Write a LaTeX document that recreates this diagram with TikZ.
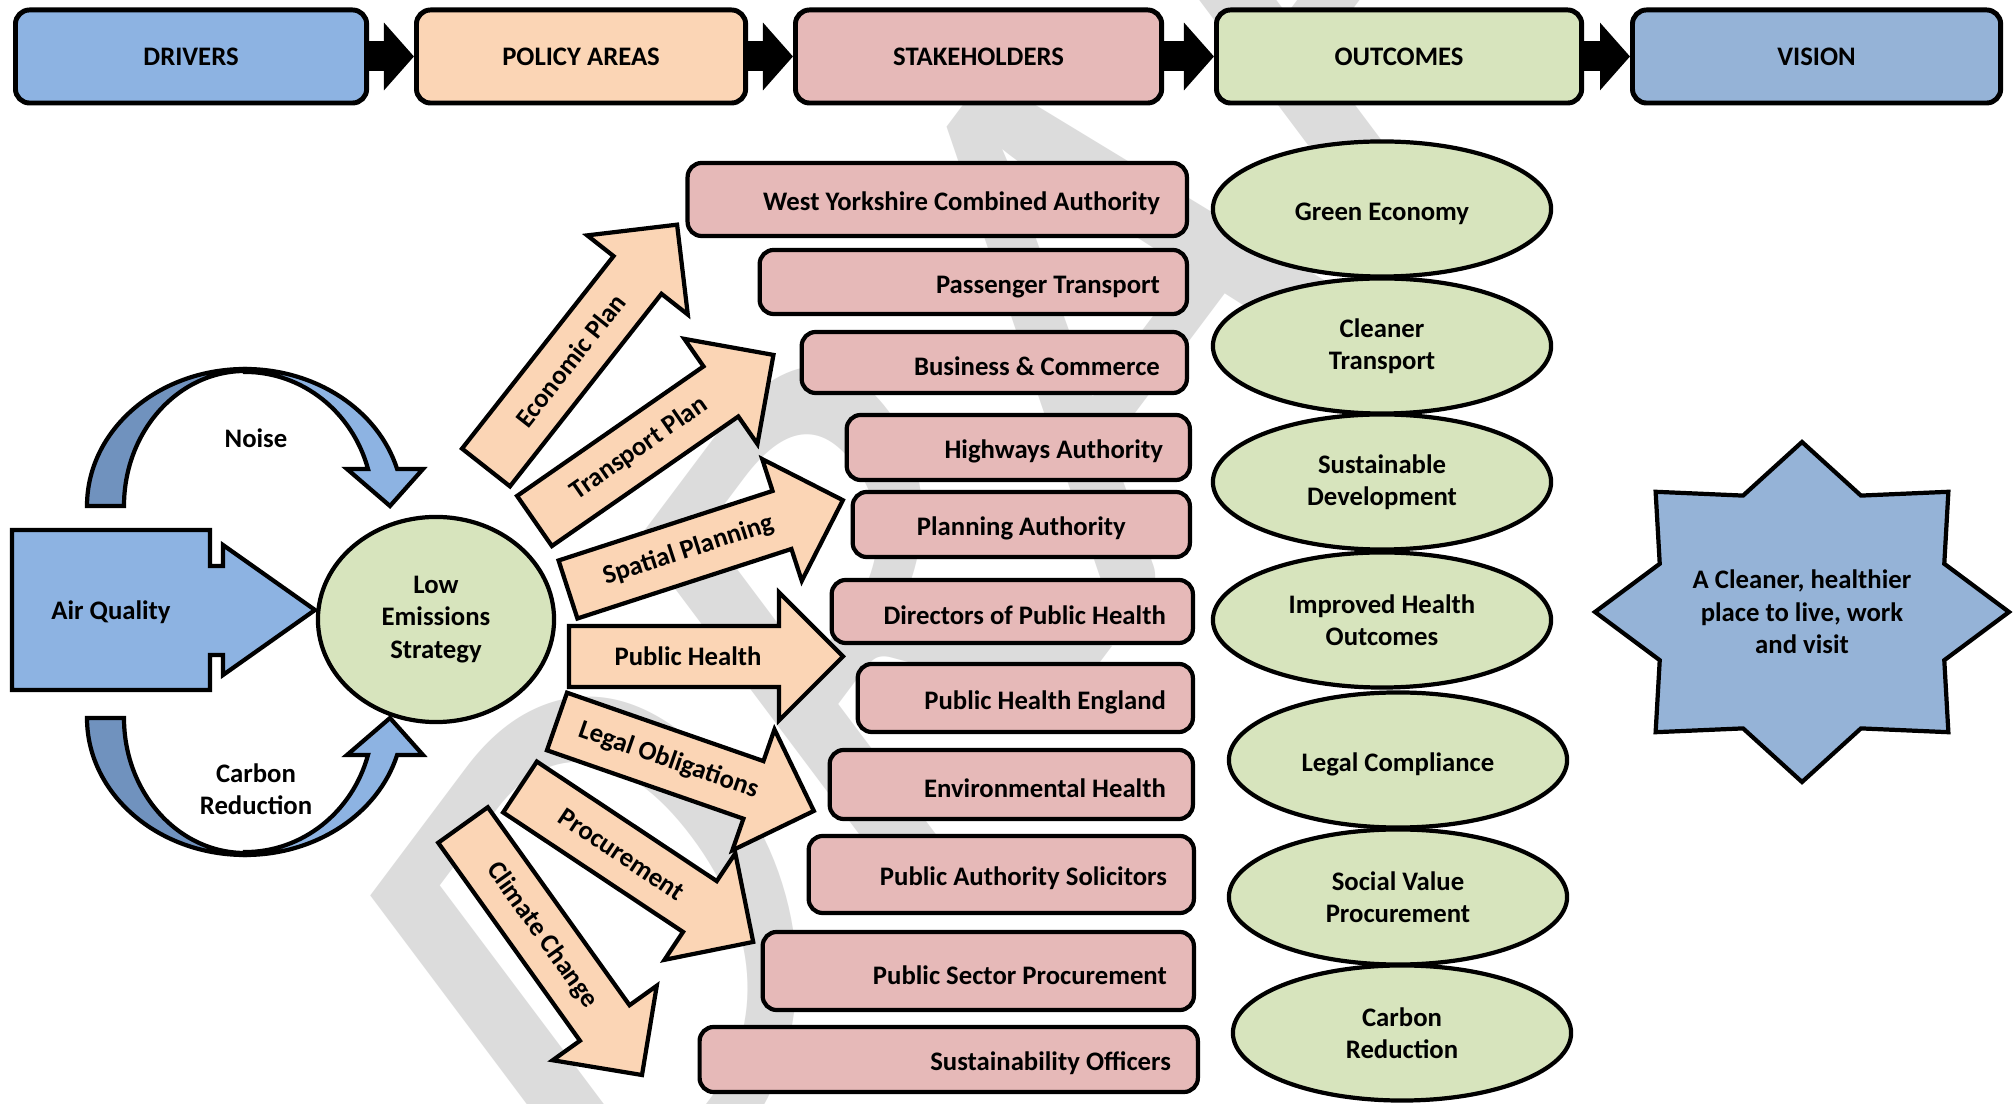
\documentclass[tikz,border=0pt]{standalone}
\usepackage{fontspec}
\setmainfont{Carlito}
\usepackage{xcolor}
\usepackage{tikz}
\usetikzlibrary{arrows.meta,shapes.geometric}

\definecolor{driverblue}{HTML}{8DB3E2}
\definecolor{driverdark}{HTML}{7092BE}
\definecolor{policypeach}{HTML}{FBD5B5}
\definecolor{stakepink}{HTML}{E6B9B8}
\definecolor{outcomegreen}{HTML}{D7E4BD}
\definecolor{visionblue}{HTML}{95B3D7}
\definecolor{watermark}{HTML}{DCDCDC}

\begin{document}
\begin{tikzpicture}[x=0.01cm, y=-0.01cm, font=\fontsize{7.6}{9.2}\selectfont\bfseries]
        \tikzset{header box/.style={draw, line width=1.4pt, rounded corners=4pt, anchor=west, minimum height=0.93cm}}
        \tikzset{header arrow/.style={line width=0.3cm, -{Triangle[length=0.3cm, width=0.66cm]}}}
        \tikzset{stake box/.style={draw, line width=1.2pt, rounded corners=4pt, fill=stakepink, anchor=east, inner xsep=0.27cm, inner ysep=0pt, execute at begin node={\rule{0pt}{1em}}}}
        \tikzset{outcome/.style={draw, ellipse, line width=1.2pt, fill=outcomegreen, minimum width=3.38cm, minimum height=1.35cm, inner sep=0pt, align=flush center, execute at begin node={\rule{0pt}{1em}}}}
        \tikzset{policy arrow/.style={draw, line width=1.2pt, fill=policypeach, line join=miter}}
        \tikzset{shape line/.style={draw, line width=1.2pt, line join=miter}}

        \fill[white] (0,0) rectangle (2015,1104);
        \useasboundingbox (0,0) rectangle (2015,1104);

        % watermark behind everything
        \begin{scope}
            \clip (0,0) rectangle (2015,1104);
            \begin{scope}[xscale=0.75, transform shape]
                \node[rotate=45, text=watermark, font=\fontsize{231.6}{231.6}\selectfont\mdseries, inner sep=0pt] (draft) at (1413,347) {DRAFT};
            \end{scope}
        \end{scope}

        % header row
        \node[header box, fill=driverblue, minimum width=3.51cm] (drivers) at (13,56.5) {DRIVERS};
        \node[header box, fill=policypeach, minimum width=3.29cm] (policy) at (414,56.5) {POLICY AREAS};
        \node[header box, fill=stakepink, minimum width=3.66cm] (stakeholders) at (793,56.5) {STAKEHOLDERS};
        \node[header box, fill=outcomegreen, minimum width=3.65cm] (outcomes) at (1214,56.5) {OUTCOMES};
        \node[header box, fill=visionblue, minimum width=3.68cm] (vision) at (1630,56.5) {VISION};
        \draw[header arrow] (drivers.east) -- (policy.west);
        \draw[header arrow] (policy.east) -- (stakeholders.west);
        \draw[header arrow] (stakeholders.east) -- (outcomes.west);
        \draw[header arrow] (outcomes.east) -- (vision.west);

        % drivers
        \draw[shape line, fill=driverblue] (12,530) -- (210,530) -- (210,566) -- (223,566) -- (223,545) -- (315,610)
            -- (223,675) -- (223,655) -- (210,655) -- (210,690) -- (12,690) -- cycle;
        \node (airquality) at (111,612) {Air Quality};

        \begin{scope}[shift={(245,506)}, yscale=-1]
            \draw[shape line, fill=driverdark] (-158,0) arc[start angle=180, end angle=90, x radius=158, y radius=137]
                -- (0,135) arc[start angle=90, end angle=180, x radius=121, y radius=135] -- cycle;
            \draw[shape line, fill=driverblue] (0,137) arc[start angle=90, end angle=15.7, x radius=158, y radius=137]
                -- (178,37) -- (145,0) -- (102,37) -- (123,37) arc[start angle=16, end angle=90, x radius=128, y radius=134] -- cycle;
        \end{scope}
        \begin{scope}[shift={(245,718)}]
            \draw[shape line, fill=driverdark] (-158,0) arc[start angle=180, end angle=90, x radius=158, y radius=137]
                -- (0,135) arc[start angle=90, end angle=180, x radius=121, y radius=135] -- cycle;
            \draw[shape line, fill=driverblue] (0,137) arc[start angle=90, end angle=15.7, x radius=158, y radius=137]
                -- (178,37) -- (145,0) -- (102,37) -- (123,37) arc[start angle=16, end angle=90, x radius=128, y radius=134] -- cycle;
        \end{scope}
        \node (noise) at (256,438) {Noise};
        \node[align=flush center] (carbonloop) at (256,789) {Carbon\\Reduction};

        \node[draw, ellipse, line width=1.2pt, fill=outcomegreen, minimum width=2.36cm, minimum height=2.05cm, inner sep=0pt, align=flush center, execute at begin node={\rule{0pt}{0.9em}}] (les) at (436,619.5) {Low\\Emissions\\Strategy};

        % policy areas
        \foreach \nm/\px/\py/\ang/\len/\txt in {
            econ/486/467.5/51.8/309/Economic Plan,
            transport/534.5/521/34.8/291/Transport Plan,
            spatial/568/589.5/18/289/Spatial Planning,
            health/569/656.5/0/274/Public Health,
            legal/557/721.5/-19.2/272/Legal Obligations,
            procure/520/787/-33.6/280/Procurement,
            climate/463/825/-54.4/307.5/Climate Change}
        {
            \begin{scope}[shift={(\px,\py)}, rotate=\ang]
                \draw[policy arrow] (0,-30.5) -- ({\len-64},-30.5) -- ({\len-64},-64) -- (\len,0) -- ({\len-64},64) -- ({\len-64},30.5) -- (0,30.5) -- cycle;
                \node[rotate=\ang] (\nm) at ({(\len-64)/2+14},0) {\txt};
            \end{scope}
        }

        % stakeholders
        \foreach \nm/\rx/\cy/\w/\h/\al/\txt in {
            wyca/1189/199.5/499/73/flush right/West Yorkshire Combined Authority,
            ptrans/1189/282/427/64/flush right/Passenger Transport,
            business/1189/362.5/385/61/flush right/Business \& Commerce,
            highways/1192/447.5/343/65/flush right/Highways Authority,
            planning/1192/524.5/337/65/flush center/Planning Authority,
            directors/1195/611.5/361/63/flush right/Directors of Public Health,
            phe/1195/698/335/68/flush right/Public Health England,
            envhealth/1195/784.5/363/69/flush right/Environmental Health,
            solicitors/1196/874.5/385/77/flush right/Public Authority Solicitors,
            sectorproc/1196/971/431/78/flush right/Public Sector Procurement,
            sustain/1200/1059.5/498/65/flush right/Sustainability Officers}
        {
            \pgfmathsetmacro\tw{(\w-54)/100}
            \pgfmathsetmacro\bh{\h/100}
            \node[stake box, text width=\tw cm, minimum height=\bh cm, align=\al] (\nm) at (\rx,\cy) {\txt};
        }

        % outcomes
        \foreach \nm/\cx/\cy/\txt in {
            greeneco/1382/209/Green Economy,
            cleaner/1382/346/Cleaner\\Transport,
            sustdev/1382/482/Sustainable\\Development,
            improved/1382/620/Improved Health\\Outcomes,
            legalcomp/1398/760/Legal Compliance,
            social/1398/897/Social Value\\Procurement,
            carbonout/1402/1033/Carbon\\Reduction}
        {
            \node[outcome] (\nm) at (\cx,\cy) {\txt};
        }

        % vision
        \draw[shape line, fill=visionblue, shift={(1802,612)}] (0:207 and 170)
            \foreach \a in {0,45,...,315} { -- ({\a+22.5}:154 and 126) -- ({\a+45}:207 and 170) } -- cycle;
        \node[align=flush center] (visiontext) at (1802,612) {A Cleaner, healthier\\place to live, work\\and visit};
    \end{tikzpicture}
\end{document}
